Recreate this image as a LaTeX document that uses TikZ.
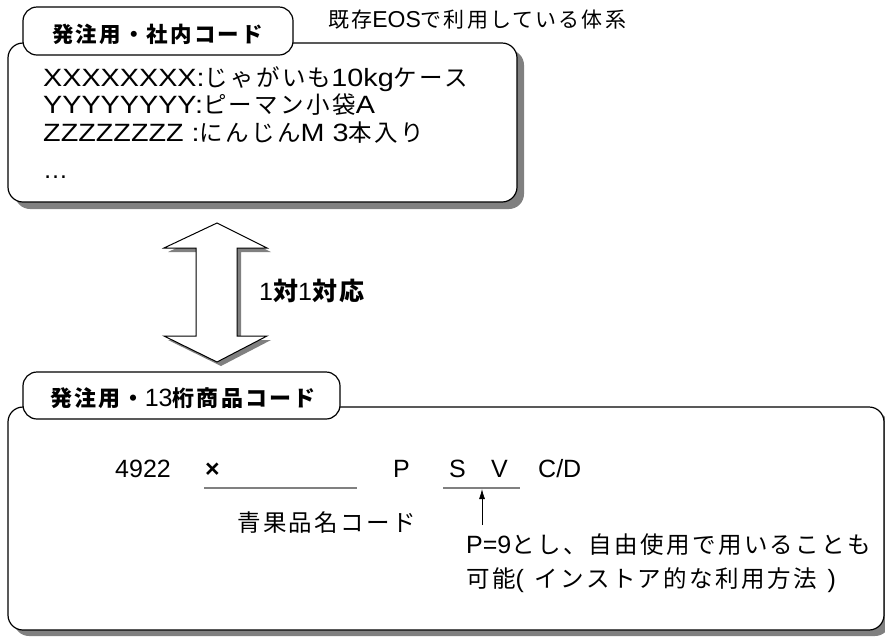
\documentclass[tikz,border=0pt]{standalone}
\usepackage{fontspec}
\setmainfont{Liberation Sans}
\newfontfamily\wide[FakeStretch=1.15]{Liberation Sans}
\newfontfamily\jp[LetterSpace=10]{Noto Sans CJK JP}
\newcommand{\J}[2][26]{{\jp\fontsize{#1}{#1}\selectfont #2}}
\usetikzlibrary{arrows.meta}
\definecolor{shadegray}{gray}{0.5}

\begin{document}
\begin{tikzpicture}[x=1pt,y=-1pt,
    shade/.style={fill=shadegray,draw=none},
    frame/.style={draw,fill=white,line width=1.2pt,rounded corners=15pt},
    txt/.style={anchor=base west,inner sep=0pt,font=\fontsize{25}{30}\selectfont}]
  \useasboundingbox (0,0) rectangle (885,638);

  % upper box: order codes
  \fill[shade,rounded corners=15pt,shift={(7,7)}] (8,43) rectangle (517,202);
  \draw[frame] (8,43) rectangle (517,202);
  \draw[frame,rounded corners=14pt] (23,7) rectangle (293,55);
  \node[txt] (tab1) at (52,42) {\J[21.5]{\bfseries 発注用・社内コード}};
  \node[txt,font=\fontsize{23}{26}\selectfont] (note) at (328,27) {\J[21]{既存}EOS\J[21]{で利用している体系}};
  \node[txt,font=\wide\fontsize{25}{30}\selectfont] (row1) at (43,86) {XXXXXXXX:\J[23.5]{じゃがいも}10kg\J[23.5]{ケース}};
  \node[txt,font=\wide\fontsize{25}{30}\selectfont] (row2) at (43,113) {YYYYYYYY:\J[23.5]{ピーマン小袋}A};
  \node[txt,font=\wide\fontsize{25}{30}\selectfont] (row3) at (43,141) {ZZZZZZZZ :\J[23.5]{にんじん}M 3\J[23.5]{本入り}};
  \node[txt] (row4) at (43,178) {…};

  % one to one arrow
  \fill[shade,shift={(4,4)}] (217,223) -- (267,248) -- (237,248) -- (237,336) -- (267,336)
    -- (217,362) -- (164,336) -- (196,336) -- (196,248) -- (164,248) -- cycle;
  \draw[fill=white,line width=1pt] (217,223) -- (267,248) -- (237,248) -- (237,336) -- (267,336)
    -- (217,362) -- (164,336) -- (196,336) -- (196,248) -- (164,248) -- cycle;
  \node[txt,font=\fontsize{25}{28}\selectfont] (ratio) at (259,300) {1\J[25]{\bfseries 対}1\J[25]{\bfseries 対応}};

  % lower box: 13 digit code
  \fill[shade,rounded corners=15pt,shift={(6,6)}] (8,407) rectangle (884,630);
  \draw[frame] (8,407) rectangle (884,630);
  \draw[frame,rounded corners=14pt] (23,372) rectangle (340,419);
  \node[txt] (tab2) at (50,406) {\J[22]{\bfseries 発注用・}{\fontsize{25}{28}\selectfont 13}\J[22]{\bfseries 桁商品コード}};

  \node[txt] (prefix) at (115,477) {4922};
  \node[txt] (item) at (205,477) {\bfseries ×};
  \node[txt] (p) at (393,477) {P};
  \node[txt] (s) at (449,477) {S};
  \node[txt] (v) at (491,477) {V};
  \node[txt] (cd) at (538,477) {C/D};

  \coordinate (u1) at (204,488);
  \coordinate (u2) at (357,488);
  \coordinate (w1) at (443,488);
  \coordinate (w2) at (520,488);
  \coordinate (wmid) at (482,488);
  \coordinate (tail) at (482,525);
  \draw[shadegray,line width=2pt] (u1) -- (u2);
  \draw[shadegray,line width=2pt] (w1) -- (w2);
  \draw[-{Latex[length=10pt,width=6pt]},line width=0.8pt,shorten >=1pt] (tail) -- (wmid);

  \node[txt] (name) at (237,531) {\J[23.5]{青果品名コード}};
  \node[txt] (free1) at (466,553) {P=9\J[23.5]{とし、自由使用で用いることも}};
  \node[txt] (free2) at (466,587) {\J[23.5]{可能}(\, \J[23.5]{インストア的な利用方法}\, )};
\end{tikzpicture}
\end{document}
